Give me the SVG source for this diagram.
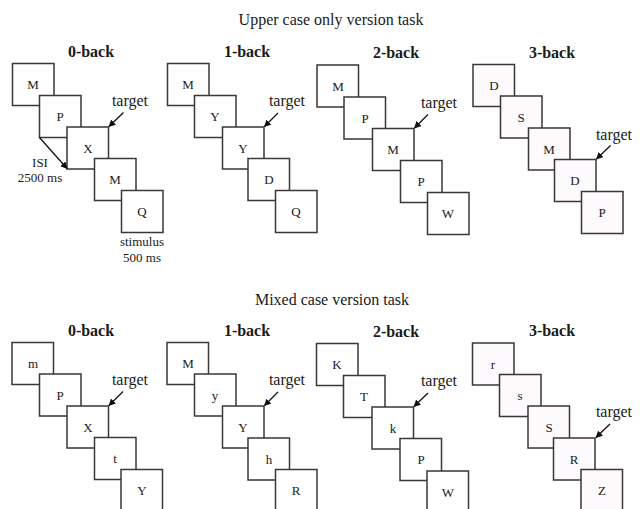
<svg xmlns="http://www.w3.org/2000/svg" width="640" height="509" viewBox="0 0 640 509">
<style>
text{font-family:"Liberation Serif","Times New Roman",serif;fill:#1a1a1a}
.hd{font-size:16px;text-anchor:middle}
.ti{font-size:16px;font-weight:bold;text-anchor:middle}
.bx rect{fill:#fff;stroke:#3d3636;stroke-width:1.5}
.p3 rect{fill:#fdfafd}
.bx text{font-size:13px;text-anchor:middle}
.tg{font-size:16px;text-anchor:middle}
.lb{font-size:13px;text-anchor:middle}
.ar{stroke:#111;stroke-width:1.3;fill:none;marker-end:url(#ah)}
</style>
<defs>
<marker id="ah" viewBox="0 0 10 10" refX="9" refY="5" markerWidth="7" markerHeight="7" markerUnits="userSpaceOnUse" orient="auto">
<path d="M0,0 L10,5 L0,10 z" fill="#111"/>
</marker>
</defs>
<rect width="640" height="509" fill="#fff"/>
<text class="hd" x="331" y="25">Upper case only version task</text>
<text class="hd" x="332" y="305">Mixed case version task</text>

<!-- Upper 0-back -->
<g id="u0">
<text class="ti" x="91" y="57">0-back</text>
<g class="bx">
<g id="u0a"><rect x="12.5" y="63.5" width="41.5" height="42"/><text x="33" y="89">M</text></g>
<g id="u0b"><rect x="39.5" y="95.5" width="41.5" height="42"/><text x="60" y="121">P</text></g>
<g id="u0c"><rect x="67" y="127" width="41.5" height="42"/><text x="88" y="152.5">X</text></g>
<g id="u0d"><rect x="94.5" y="158.5" width="41.5" height="42"/><text x="115" y="184">M</text></g>
<g id="u0e"><rect x="121.5" y="190.5" width="41.5" height="42"/><text x="142" y="216">Q</text></g>
</g>
<text class="tg" x="130" y="106">target</text>
<text class="lb" x="40" y="166.5">ISI</text>
<text class="lb" x="40" y="182">2500 ms</text>
<text class="lb" x="142" y="246">stimulus</text>
<text class="lb" x="142" y="261.5">500 ms</text>
</g>

<!-- Upper 1-back -->
<g id="u1">
<text class="ti" x="247" y="57">1-back</text>
<g class="bx">
<g id="u1a"><rect x="167.5" y="63.5" width="41.5" height="42"/><text x="188" y="89">M</text></g>
<g id="u1b"><rect x="194.5" y="95.5" width="41.5" height="42"/><text x="215" y="121">Y</text></g>
<g id="u1c"><rect x="222.5" y="127" width="41.5" height="42"/><text x="243" y="152.5">Y</text></g>
<g id="u1d"><rect x="248" y="158.5" width="41.5" height="42"/><text x="269" y="184">D</text></g>
<g id="u1e"><rect x="275.5" y="190.5" width="41.5" height="42"/><text x="296" y="216">Q</text></g>
</g>
<text class="tg" x="287" y="106">target</text>
</g>

<!-- Upper 2-back -->
<g id="u2">
<text class="ti" x="396" y="58">2-back</text>
<g class="bx">
<g id="u2a"><rect x="317" y="65" width="41.5" height="42"/><text x="338" y="90.5">M</text></g>
<g id="u2b"><rect x="344" y="97" width="41.5" height="42"/><text x="365" y="122.5">P</text></g>
<g id="u2c"><rect x="372.5" y="128.5" width="41.5" height="42"/><text x="393" y="154">M</text></g>
<g id="u2d"><rect x="400.5" y="160.5" width="41.5" height="42"/><text x="421" y="186">P</text></g>
<g id="u2e"><rect x="427.5" y="192.5" width="41.5" height="42"/><text x="448" y="218">W</text></g>
</g>
<text class="tg" x="439" y="107.5">target</text>
</g>

<!-- Upper 3-back -->
<g id="u3">
<text class="ti" x="552" y="58">3-back</text>
<g class="bx p3">
<g id="u3a"><rect x="473" y="64.5" width="41.5" height="42"/><text x="494" y="90">D</text></g>
<g id="u3b"><rect x="500.5" y="96" width="41.5" height="42"/><text x="521" y="121.5">S</text></g>
<g id="u3c"><rect x="528.5" y="128" width="41.5" height="42"/><text x="549" y="153.5">M</text></g>
<g id="u3d"><rect x="554.5" y="159.5" width="41.5" height="42"/><text x="575" y="185">D</text></g>
<g id="u3e"><rect x="581.5" y="191.5" width="41.5" height="42"/><text x="602" y="217">P</text></g>
</g>
<text class="tg" x="614" y="139.5">target</text>
</g>

<!-- Lower 0-back -->
<g id="l0">
<text class="ti" x="91" y="336">0-back</text>
<g class="bx">
<g id="l0a"><rect x="12" y="342.5" width="41.5" height="42"/><text x="33" y="368">m</text></g>
<g id="l0b"><rect x="39.5" y="374" width="41.5" height="42"/><text x="60" y="399.5">P</text></g>
<g id="l0c"><rect x="67" y="406" width="41.5" height="42"/><text x="88" y="431.5">X</text></g>
<g id="l0d"><rect x="94.5" y="437.5" width="41.5" height="42"/><text x="115" y="463">t</text></g>
<g id="l0e"><rect x="121" y="469.5" width="41.5" height="42"/><text x="142" y="495">Y</text></g>
</g>
<text class="tg" x="130" y="385">target</text>
</g>

<!-- Lower 1-back -->
<g id="l1">
<text class="ti" x="247" y="335.5">1-back</text>
<g class="bx">
<g id="l1a"><rect x="167" y="342.5" width="41.5" height="42"/><text x="188" y="368">M</text></g>
<g id="l1b"><rect x="194.5" y="374" width="41.5" height="42"/><text x="215" y="399.5">y</text></g>
<g id="l1c"><rect x="222.5" y="406" width="41.5" height="42"/><text x="243" y="431.5">Y</text></g>
<g id="l1d"><rect x="248" y="438" width="41.5" height="42"/><text x="269" y="463.5">h</text></g>
<g id="l1e"><rect x="275.5" y="469.5" width="41.5" height="42"/><text x="296" y="495">R</text></g>
</g>
<text class="tg" x="287" y="385">target</text>
</g>

<!-- Lower 2-back -->
<g id="l2">
<text class="ti" x="396" y="336.5">2-back</text>
<g class="bx">
<g id="l2a"><rect x="316.5" y="343.5" width="41.5" height="42"/><text x="337" y="369">K</text></g>
<g id="l2b"><rect x="343.5" y="375.5" width="41.5" height="42"/><text x="364" y="401">T</text></g>
<g id="l2c"><rect x="372" y="407" width="41.5" height="42"/><text x="393" y="432.5">k</text></g>
<g id="l2d"><rect x="400" y="438.5" width="41.5" height="42"/><text x="421" y="464">P</text></g>
<g id="l2e"><rect x="427" y="471" width="41.5" height="42"/><text x="448" y="496.5">W</text></g>
</g>
<text class="tg" x="439" y="386">target</text>
</g>

<!-- Lower 3-back -->
<g id="l3">
<text class="ti" x="552" y="336">3-back</text>
<g class="bx p3">
<g id="l3a"><rect x="472.5" y="343" width="41.5" height="42"/><text x="493" y="368.5">r</text></g>
<g id="l3b"><rect x="499.5" y="374.5" width="41.5" height="42"/><text x="520" y="400">s</text></g>
<g id="l3c"><rect x="528" y="406" width="41.5" height="42"/><text x="549" y="431.5">S</text></g>
<g id="l3d"><rect x="553.5" y="438" width="41.5" height="42"/><text x="574" y="463.5">R</text></g>
<g id="l3e"><rect x="581" y="469.5" width="41.5" height="42"/><text x="602" y="495">Z</text></g>
</g>
<text class="tg" x="614" y="417">target</text>
</g>

<g id="connectors">
<line class="ar" x1="39.5" y1="137.5" x2="67" y2="168.5"/>
<line class="ar" x1="123.5" y1="112.5" x2="109" y2="126.5"/>
<line class="ar" x1="278" y1="113" x2="264.5" y2="126.5"/>
<line class="ar" x1="428" y1="114.5" x2="414.5" y2="128"/>
<line class="ar" x1="610.5" y1="145.5" x2="596.5" y2="159"/>
<line class="ar" x1="123" y1="391.5" x2="109" y2="405.5"/>
<line class="ar" x1="278" y1="392" x2="264.5" y2="405.5"/>
<line class="ar" x1="428" y1="393" x2="414" y2="406.5"/>
<line class="ar" x1="610" y1="424" x2="596" y2="437.5"/>
</g>
</svg>
